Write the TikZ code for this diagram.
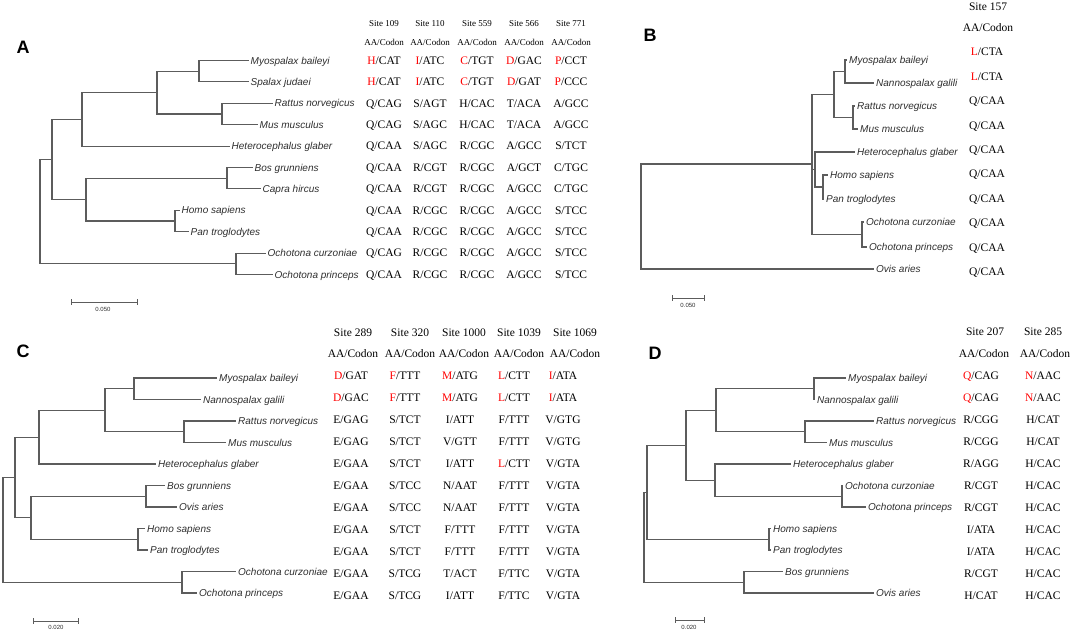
\documentclass[tikz,border=0pt]{standalone}
\usepackage{fontspec}
\setmainfont{Liberation Serif}
\newfontfamily\arialf{Liberation Sans}
\definecolor{brc}{HTML}{5C5C5C}
\definecolor{lbc}{HTML}{2E2E2E}
\definecolor{redc}{HTML}{FF0000}
\newcommand\redaa[1]{\textcolor{redc}{#1}}
\newcommand\mytabcol[6]{\foreach \t [count=\i from 0] in {#6} {\node[#5] (#1-\i) at (#2,{#3+#4*\i}) {\t};}}
\begin{document}
\begin{tikzpicture}[x=1pt,y=-1pt,
  br/.style={draw=brc,line width=1.1pt,line cap=rect},
  leaf/.style={anchor=west,inner xsep=2.5pt,inner ysep=0pt,text height=7.2pt,text depth=0pt,
    font=\arialf\itshape\fontsize{10}{12}\selectfont,text=lbc},
  cod/.style={inner sep=0pt,text height=7.6pt,text depth=0pt,font=\fontsize{11.5}{13}\selectfont},
  hdA/.style={inner sep=0pt,text height=6pt,text depth=0pt,font=\fontsize{9}{11}\selectfont},
  plab/.style={inner sep=0pt,font=\arialf\bfseries\fontsize{18}{20}\selectfont},
  sbl/.style={inner sep=0pt,font=\arialf\fontsize{6}{7}\selectfont,text=lbc}]
\useasboundingbox (0,0) rectangle (1072,632);

% ---------------- Panel A ----------------
\node[plab] (PA) at (23,47) {A};
\coordinate (A0) at (40,211.6);
\coordinate (A1) at (52,159.5);
\coordinate (A2) at (82,119.35);
\coordinate (A3) at (157,92.6);
\coordinate (A4a) at (199,71.2);
\coordinate (A4b) at (222,114);
\coordinate (A5) at (86,199.6);
\coordinate (A6) at (227,178.2);
\coordinate (A7) at (175,221);
\coordinate (A8) at (236,263.8);
\node[leaf] (A-l0) at (248,60.5) {Myospalax baileyi};
\node[leaf] (A-l1) at (248,81.9) {Spalax judaei};
\node[leaf] (A-l2) at (272,103.3) {Rattus norvegicus};
\node[leaf] (A-l3) at (257,124.7) {Mus musculus};
\node[leaf] (A-l4) at (229,146.1) {Heterocephalus glaber};
\node[leaf] (A-l5) at (252,167.5) {Bos grunniens};
\node[leaf] (A-l6) at (260,188.9) {Capra hircus};
\node[leaf] (A-l7) at (179,210.3) {Homo sapiens};
\node[leaf] (A-l8) at (188,231.7) {Pan troglodytes};
\node[leaf] (A-l9) at (265,253.1) {Ochotona curzoniae};
\node[leaf] (A-l10) at (272,274.5) {Ochotona princeps};
\draw[br] (A0) |- (A1); \draw[br] (A0) |- (A8);
\draw[br] (A1) |- (A2); \draw[br] (A1) |- (A5);
\draw[br] (A2) |- (A3); \draw[br] (A2) |- (A-l4.west);
\draw[br] (A3) |- (A4a); \draw[br] (A3) |- (A4b);
\draw[br] (A4a) |- (A-l0.west); \draw[br] (A4a) |- (A-l1.west);
\draw[br] (A4b) |- (A-l2.west); \draw[br] (A4b) |- (A-l3.west);
\draw[br] (A5) |- (A6); \draw[br] (A5) |- (A7);
\draw[br] (A6) |- (A-l5.west); \draw[br] (A6) |- (A-l6.west);
\draw[br] (A7) |- (A-l7.west); \draw[br] (A7) |- (A-l8.west);
\draw[br] (A8) |- (A-l9.west); \draw[br] (A8) |- (A-l10.west);
\coordinate (sA1) at (71,302); \coordinate (sA2) at (137,302);
\draw[brc,line width=0.9pt] (sA1) -- (sA2);
\draw[brc,line width=0.9pt] ([yshift=3pt]sA1) -- ([yshift=-3pt]sA1);
\draw[brc,line width=0.9pt] ([yshift=3pt]sA2) -- ([yshift=-3pt]sA2);
\node[sbl] (sAl) at (103,309) {0.050};
\foreach \x/\s [count=\k] in {384/109,430/110,477/559,524/566,571/771}
  {\node[hdA] (A-s\k) at (\x,23) {Site \s}; \node[hdA] (A-a\k) at (\x,42) {AA/Codon};}
\mytabcol{Ac1}{384}{60.5}{21.4}{cod}{\redaa{H}/CAT,\redaa{H}/CAT,Q/CAG,Q/CAG,Q/CAA,Q/CAA,Q/CAA,Q/CAA,Q/CAA,Q/CAG,Q/CAA}
\mytabcol{Ac2}{430}{60.5}{21.4}{cod}{\redaa{I}/ATC,\redaa{I}/ATC,S/AGT,S/AGC,S/AGC,R/CGT,R/CGT,R/CGC,R/CGC,R/CGC,R/CGC}
\mytabcol{Ac3}{477}{60.5}{21.4}{cod}{\redaa{C}/TGT,\redaa{C}/TGT,H/CAC,H/CAC,R/CGC,R/CGC,R/CGC,R/CGC,R/CGC,R/CGC,R/CGC}
\mytabcol{Ac4}{524}{60.5}{21.4}{cod}{\redaa{D}/GAC,\redaa{D}/GAT,T/ACA,T/ACA,A/GCC,A/GCT,A/GCC,A/GCC,A/GCC,A/GCC,A/GCC}
\mytabcol{Ac5}{571}{60.5}{21.4}{cod}{\redaa{P}/CCT,\redaa{P}/CCC,A/GCC,A/GCC,S/TCT,C/TGC,C/TGC,S/TCC,S/TCC,S/TCC,S/TCC}

% ---------------- Panel B ----------------
\node[plab] (PB) at (650,35) {B};
\coordinate (B0) at (641,216.5);
\coordinate (B1) at (812,164);
\coordinate (B2) at (834,94.5);
\coordinate (B3) at (845,71.5);
\coordinate (B4) at (853,117.5);
\coordinate (B5) at (815,169.5);
\coordinate (B6) at (823,187);
\coordinate (B7) at (862,234.5);
\node[leaf] (B-l0) at (846.5,60) {Myospalax baileyi};
\node[leaf] (B-l1) at (873.5,83) {Nannospalax galili};
\node[leaf] (B-l2) at (854.5,106) {Rattus norvegicus};
\node[leaf] (B-l3) at (857.5,129) {Mus musculus};
\node[leaf] (B-l4) at (854.5,152) {Heterocephalus glaber};
\node[leaf] (B-l5) at (827.5,175) {Homo sapiens};
\node[leaf] (B-l6) at (823.5,199) {Pan troglodytes};
\node[leaf] (B-l7) at (863.5,222) {Ochotona curzoniae};
\node[leaf] (B-l8) at (866.5,247) {Ochotona princeps};
\node[leaf] (B-l9) at (873.5,269) {Ovis aries};
\draw[br] (B0) |- (B1); \draw[br] (B0) |- (B-l9.west);
\draw[br] (B1) |- (B2); \draw[br] (B1) |- (B5); \draw[br] (B1) |- (B7);
\draw[br] (B2) |- (B3); \draw[br] (B2) |- (B4);
\draw[br] (B3) |- (B-l0.west); \draw[br] (B3) |- (B-l1.west);
\draw[br] (B4) |- (B-l2.west); \draw[br] (B4) |- (B-l3.west);
\draw[br] (B5) |- (B-l4.west); \draw[br] (B5) |- (B6);
\draw[br] (B6) |- (B-l5.west); \draw[br] (B6) |- (B-l6.west);
\draw[br] (B7) |- (B-l7.west); \draw[br] (B7) |- (B-l8.west);
\coordinate (sB1) at (672,298); \coordinate (sB2) at (704,298);
\draw[brc,line width=0.9pt] (sB1) -- (sB2);
\draw[brc,line width=0.9pt] ([yshift=3pt]sB1) -- ([yshift=-3pt]sB1);
\draw[brc,line width=0.9pt] ([yshift=3pt]sB2) -- ([yshift=-3pt]sB2);
\node[sbl] (sBl) at (688,305) {0.050};
\node[cod] (B-s1) at (988,7) {Site 157};
\node[cod] (B-a1) at (988,28) {AA/Codon};
\mytabcol{Bc1}{987}{52}{24.4}{cod}{\redaa{L}/CTA,\redaa{L}/CTA,Q/CAA,Q/CAA,Q/CAA,Q/CAA,Q/CAA,Q/CAA,Q/CAA,Q/CAA}

% ---------------- Panel C ----------------
\node[plab] (PC) at (23,351) {C};
\coordinate (C0) at (3,529.8);
\coordinate (C1) at (15,477.4);
\coordinate (C2) at (39,437.1);
\coordinate (C3) at (105,410.25);
\coordinate (C4a) at (134,388.75);
\coordinate (C4b) at (184,431.75);
\coordinate (C5) at (31,517.75);
\coordinate (C6) at (146,496.25);
\coordinate (C7) at (138,539.25);
\coordinate (C8) at (182,582.25);
\node[leaf] (C-l0) at (216.5,378) {Myospalax baileyi};
\node[leaf] (C-l1) at (200.5,399.5) {Nannospalax galili};
\node[leaf] (C-l2) at (235.5,421) {Rattus norvegicus};
\node[leaf] (C-l3) at (225.5,442.5) {Mus musculus};
\node[leaf] (C-l4) at (155.5,464) {Heterocephalus glaber};
\node[leaf] (C-l5) at (164.5,485.5) {Bos grunniens};
\node[leaf] (C-l6) at (176.5,507) {Ovis aries};
\node[leaf] (C-l7) at (144.5,528.5) {Homo sapiens};
\node[leaf] (C-l8) at (147.5,550) {Pan troglodytes};
\node[leaf] (C-l9) at (235.5,571.5) {Ochotona curzoniae};
\node[leaf] (C-l10) at (196.5,593) {Ochotona princeps};
\draw[br] (C0) |- (C1); \draw[br] (C0) |- (C8);
\draw[br] (C1) |- (C2); \draw[br] (C1) |- (C5);
\draw[br] (C2) |- (C3); \draw[br] (C2) |- (C-l4.west);
\draw[br] (C3) |- (C4a); \draw[br] (C3) |- (C4b);
\draw[br] (C4a) |- (C-l0.west); \draw[br] (C4a) |- (C-l1.west);
\draw[br] (C4b) |- (C-l2.west); \draw[br] (C4b) |- (C-l3.west);
\draw[br] (C5) |- (C6); \draw[br] (C5) |- (C7);
\draw[br] (C6) |- (C-l5.west); \draw[br] (C6) |- (C-l6.west);
\draw[br] (C7) |- (C-l7.west); \draw[br] (C7) |- (C-l8.west);
\draw[br] (C8) |- (C-l9.west); \draw[br] (C8) |- (C-l10.west);
\coordinate (sC1) at (33,621); \coordinate (sC2) at (78,621);
\draw[brc,line width=0.9pt] (sC1) -- (sC2);
\draw[brc,line width=0.9pt] ([yshift=3pt]sC1) -- ([yshift=-3pt]sC1);
\draw[brc,line width=0.9pt] ([yshift=3pt]sC2) -- ([yshift=-3pt]sC2);
\node[sbl] (sCl) at (56,627.5) {0.020};
\foreach \x/\s [count=\k] in {353/289,410/320,464/1000,519/1039,575/1069}
  {\node[cod] (C-s\k) at (\x,333) {Site \s}; \node[cod] (C-a\k) at (\x,354) {AA/Codon};}
\mytabcol{Cc1}{351}{376}{22}{cod}{\redaa{D}/GAT,\redaa{D}/GAC,E/GAG,E/GAG,E/GAA,E/GAA,E/GAA,E/GAA,E/GAA,E/GAA,E/GAA}
\mytabcol{Cc2}{405}{376}{22}{cod}{\redaa{F}/TTT,\redaa{F}/TTT,S/TCT,S/TCT,S/TCT,S/TCC,S/TCC,S/TCT,S/TCT,S/TCG,S/TCG}
\mytabcol{Cc3}{460}{376}{22}{cod}{\redaa{M}/ATG,\redaa{M}/ATG,I/ATT,V/GTT,I/ATT,N/AAT,N/AAT,F/TTT,F/TTT,T/ACT,I/ATT}
\mytabcol{Cc4}{514}{376}{22}{cod}{\redaa{L}/CTT,\redaa{L}/CTT,F/TTT,F/TTT,\redaa{L}/CTT,F/TTT,F/TTT,F/TTT,F/TTT,F/TTC,F/TTC}
\mytabcol{Cc5}{563}{376}{22}{cod}{\redaa{I}/ATA,\redaa{I}/ATA,V/GTG,V/GTG,V/GTA,V/GTA,V/GTA,V/GTA,V/GTA,V/GTA,V/GTA}

% ---------------- Panel D ----------------
\node[plab] (PD) at (655,353) {D};
\coordinate (D0) at (644,537.2);
\coordinate (D1) at (647,492.2);
\coordinate (D2) at (686,445.2);
\coordinate (D3) at (716,410.25);
\coordinate (D4a) at (814,388.75);
\coordinate (D4b) at (805,431.75);
\coordinate (D6) at (715,480.1);
\coordinate (D7) at (842,496.25);
\coordinate (D8) at (769,539.25);
\coordinate (D9) at (744,582.25);
\node[leaf] (D-l0) at (845.5,378) {Myospalax baileyi};
\node[leaf] (D-l1) at (814.5,399.5) {Nannospalax galili};
\node[leaf] (D-l2) at (873.5,421) {Rattus norvegicus};
\node[leaf] (D-l3) at (826.5,442.5) {Mus musculus};
\node[leaf] (D-l4) at (790.5,464) {Heterocephalus glaber};
\node[leaf] (D-l5) at (842.5,485.5) {Ochotona curzoniae};
\node[leaf] (D-l6) at (865.5,507) {Ochotona princeps};
\node[leaf] (D-l7) at (770.5,528.5) {Homo sapiens};
\node[leaf] (D-l8) at (770.5,550) {Pan troglodytes};
\node[leaf] (D-l9) at (782.5,571.5) {Bos grunniens};
\node[leaf] (D-l10) at (873.5,593) {Ovis aries};
\draw[br] (D0) |- (D1); \draw[br] (D0) |- (D9);
\draw[br] (D1) |- (D2); \draw[br] (D1) |- (D8);
\draw[br] (D2) |- (D3); \draw[br] (D2) |- (D6);
\draw[br] (D3) |- (D4a); \draw[br] (D3) |- (D4b);
\draw[br] (D4a) |- (D-l0.west); \draw[br] (D4a) |- (D-l1.west);
\draw[br] (D4b) |- (D-l2.west); \draw[br] (D4b) |- (D-l3.west);
\draw[br] (D6) |- (D-l4.west); \draw[br] (D6) |- (D7);
\draw[br] (D7) |- (D-l5.west); \draw[br] (D7) |- (D-l6.west);
\draw[br] (D8) |- (D-l7.west); \draw[br] (D8) |- (D-l8.west);
\draw[br] (D9) |- (D-l9.west); \draw[br] (D9) |- (D-l10.west);
\coordinate (sD1) at (675,620); \coordinate (sD2) at (704,620);
\draw[brc,line width=0.9pt] (sD1) -- (sD2);
\draw[brc,line width=0.9pt] ([yshift=3pt]sD1) -- ([yshift=-3pt]sD1);
\draw[brc,line width=0.9pt] ([yshift=3pt]sD2) -- ([yshift=-3pt]sD2);
\node[sbl] (sDl) at (689,627.5) {0.020};
\node[cod] (D-s1) at (985,332) {Site 207};
\node[cod] (D-s2) at (1043,332) {Site 285};
\node[cod] (D-a1) at (984,354) {AA/Codon};
\node[cod] (D-a2) at (1045,354) {AA/Codon};
\mytabcol{Dc1}{981}{376}{22}{cod}{\redaa{Q}/CAG,\redaa{Q}/CAG,R/CGG,R/CGG,R/AGG,R/CGT,R/CGT,I/ATA,I/ATA,R/CGT,H/CAT}
\mytabcol{Dc2}{1043}{376}{22}{cod}{\redaa{N}/AAC,\redaa{N}/AAC,H/CAT,H/CAT,H/CAC,H/CAC,H/CAC,H/CAC,H/CAC,H/CAC,H/CAC}
\end{tikzpicture}
\end{document}
